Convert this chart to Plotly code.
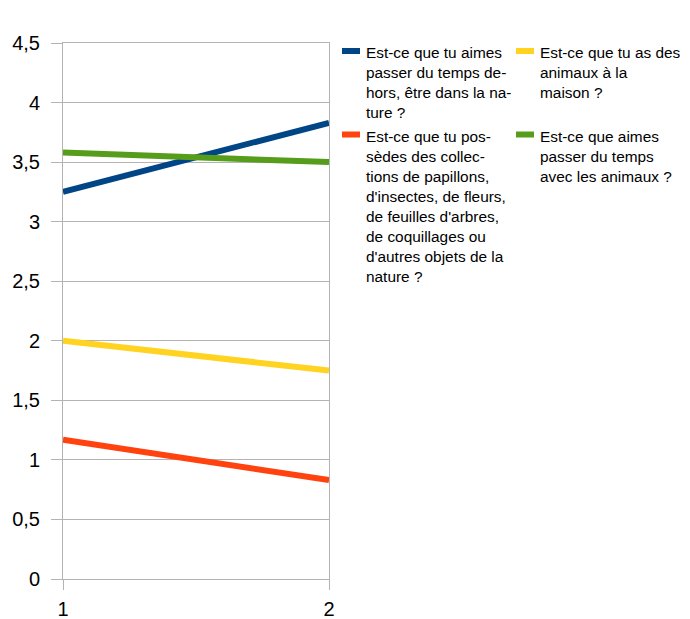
import plotly.graph_objects as go

# Survey questions (legend labels, wrapped as in the chart)
labels = [
    "Est-ce que tu aimes<br>passer du temps de-<br>hors, être dans la na-<br>ture ?",
    "Est-ce que tu as des<br>animaux à la<br>maison ?",
    "Est-ce que tu pos-<br>sèdes des collec-<br>tions de papillons,<br>d'insectes, de fleurs,<br>de feuilles d'arbres,<br>de coquillages ou<br>d'autres objets de la<br>nature ?",
    "Est-ce que aimes<br>passer du temps<br>avec les animaux ?",
]
x_vals = [1, 2]
dehors = [3.25, 3.83]
animaux_maison = [2.0, 1.75]
collections = [1.17, 0.83]
temps_animaux = [3.58, 3.5]
series = [dehors, animaux_maison, collections, temps_animaux]
colors = ["#004586", "#ffd320", "#ff420e", "#579d1c"]
y_ticks = [0, 0.5, 1, 1.5, 2, 2.5, 3, 3.5, 4, 4.5]
y_tick_text = ["0", "0,5", "1", "1,5", "2", "2,5", "3", "3,5", "4", "4,5"]

W, H = 690, 619
L, R, T, B = 63, 329, 43, 579  # plot area in pixels

def px_x(p):
    return (p - L) / (R - L)

def px_y(p):
    return (B - p) / (B - T)

fig = go.Figure()
for vals, col in zip(series, colors):
    fig.add_trace(go.Scatter(x=x_vals, y=vals, mode="lines",
                             line=dict(color=col, width=6), showlegend=False,
                             hoverinfo="skip"))

font = "Liberation Sans, Arial, sans-serif"
grid = "#b3b3b3"

# Two-column legend: swatch + wrapped text
legend_pos = [
    (342, 364, 51, 42),   # swatch x, text x, swatch center y, text top y
    (516, 538, 51, 42),
    (342, 364, 134.5, 126),
    (516, 538, 134.5, 126),
]
shapes = []
annotations = []
for (sx, tx, sy, ty), col, lab in zip(legend_pos, colors, labels):
    shapes.append(dict(type="rect", xref="paper", yref="paper",
                       x0=px_x(sx), x1=px_x(sx + 18),
                       y0=px_y(sy + 3), y1=px_y(sy - 3),
                       fillcolor=col, line=dict(width=0)))
    annotations.append(dict(xref="paper", yref="paper", x=px_x(tx), y=px_y(ty),
                            xanchor="left", yanchor="top", align="left",
                            text=lab, showarrow=False,
                            font=dict(family=font, size=15.4, color="#000000")))

fig.update_layout(
    width=W, height=H,
    margin=dict(l=L, r=W - R, t=T, b=H - B, pad=0),
    paper_bgcolor="white", plot_bgcolor="white",
    font=dict(family=font, color="#000000"),
    shapes=shapes, annotations=annotations,
    xaxis=dict(range=[1, 2], tickvals=[1, 2], ticktext=["1", "2"],
               showgrid=True, gridcolor=grid, gridwidth=1,
               zeroline=False, showline=True, linecolor=grid, linewidth=1,
               mirror=True, automargin=False,
               ticks="outside", ticklen=10, tickcolor=grid,
               tickfont=dict(size=20, color="#000000"),
               ticklabelstandoff=2),
    yaxis=dict(range=[0, 4.5], tickvals=y_ticks, ticktext=y_tick_text,
               showgrid=True, gridcolor=grid, gridwidth=1,
               zeroline=False, showline=True, linecolor=grid, linewidth=1,
               mirror=True, automargin=False,
               ticks="outside", ticklen=11, tickcolor=grid,
               tickfont=dict(size=20, color="#000000"),
               ticklabelstandoff=7),
)

fig.write_html("out.html")
